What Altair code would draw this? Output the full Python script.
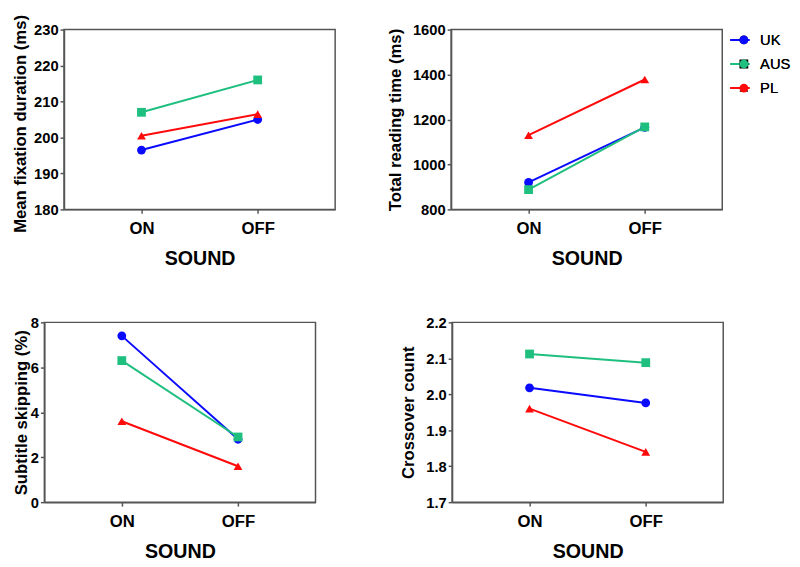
import altair as alt
import pandas as pd

sound = ["ON", "OFF"]
countries = ["UK", "AUS", "PL"]
colors = ["#0a0aff", "#1fbf7f", "#ff0a0a"]
shapes = ["circle", "square", "triangle-up"]

# Mean fixation duration (ms)
fix_uk = [196.5, 205.0]
fix_aus = [207.0, 216.0]
fix_pl = [200.5, 206.5]

# Total reading time (ms)
trt_uk = [920, 1165]
trt_aus = [888, 1167]
trt_pl = [1130, 1378]

# Subtitle skipping (%)
skip_uk = [7.4, 2.8]
skip_aus = [6.3, 2.9]
skip_pl = [3.6, 1.6]

# Crossover count
cross_uk = [2.018, 1.976]
cross_aus = [2.112, 2.088]
cross_pl = [1.960, 1.840]

FONT = "Liberation Sans"
W, H = 276, 183


def table(uk, aus, pl):
    rows = []
    for c, vals in zip(countries, [uk, aus, pl]):
        for s, v in zip(sound, vals):
            rows.append({"Country": c, "Country2": c, "Sound": s, "Value": v})
    return pd.DataFrame(rows)


def panel(df, ytitle, domain, ticks, fmt, show_legend=False, title_pad=8,
          title_y=None):
    base = alt.Chart(df)
    x = alt.X("Sound:N", sort=sound,
              scale=alt.Scale(type="point", padding=2 / 3),
              axis=alt.Axis(title="SOUND", labelAngle=0))
    yaxis = dict(values=ticks, format=fmt, title=ytitle, titlePadding=title_pad)
    if title_y is not None:
        yaxis["titleY"] = title_y
    y = alt.Y("Value:Q",
              scale=alt.Scale(domain=domain, nice=False, zero=False),
              axis=alt.Axis(**yaxis))
    if show_legend:
        line_leg = alt.Legend(orient="none", legendX=W + 7, legendY=0,
                              title=None, symbolType="stroke",
                              symbolSize=400, symbolStrokeWidth=2,
                              labelExpr="''", clipHeight=21, rowPadding=3.5,
                              padding=0)
        pt_leg = alt.Legend(orient="none", legendX=W + 14.5, legendY=0,
                            title=None, symbolSize=80, symbolStrokeWidth=0,
                            labelFont=FONT, labelFontSize=15,
                            labelFontWeight="normal", labelColor="#000",
                            labelOffset=9, clipHeight=21, rowPadding=3.5,
                            padding=0)
    else:
        line_leg = None
        pt_leg = None
    line = base.mark_line(strokeWidth=2).encode(
        x=x, y=y,
        color=alt.Color("Country:N", sort=countries,
                        scale=alt.Scale(range=colors), legend=line_leg),
    )
    pts = base.mark_point(filled=True, size=80, strokeWidth=0, opacity=1).encode(
        x=x, y=y,
        fill=alt.Fill("Country2:N", sort=countries,
                      scale=alt.Scale(range=colors), legend=pt_leg),
        shape=alt.Shape("Country2:N", sort=countries,
                        scale=alt.Scale(range=shapes), legend=pt_leg),
    )
    return alt.layer(line, pts).properties(width=W, height=H)


def spacer():
    # empty, invisible 1px cell that anchors each row at the left margin
    return (
        alt.Chart(pd.DataFrame({"v": [0]}))
        .mark_point(opacity=0, size=0, strokeWidth=0)
        .encode(x=alt.value(0), y=alt.value(0))
        .properties(width=1, height=1,
                    view=alt.ViewBackground(stroke="transparent"))
    )


p1 = panel(table(fix_uk, fix_aus, fix_pl), "Mean fixation duration (ms)",
           [180, 230], [180, 190, 200, 210, 220, 230], "d",
           title_pad=4, title_y=H / 2 + 4)
p2 = panel(table(trt_uk, trt_aus, trt_pl), "Total reading time (ms)",
           [800, 1600], [800, 1000, 1200, 1400, 1600], "d", show_legend=True)
p3 = panel(table(skip_uk, skip_aus, skip_pl), "Subtitle skipping (%)",
           [0, 8], [0, 2, 4, 6, 8], "d", title_pad=0)
p4 = panel(table(cross_uk, cross_aus, cross_pl), "Crossover count",
           [1.7, 2.2], [1.7, 1.8, 1.9, 2.0, 2.1, 2.2], ".1f")

ind = dict(color="independent", fill="independent", shape="independent",
           x="independent", y="independent")

row1 = alt.hconcat(p1, p2, spacing=50).resolve_scale(**ind)
row2 = alt.hconcat(p3, p4, spacing=84).resolve_scale(**ind)
row1s = alt.hconcat(spacer(), row1, spacing=0).resolve_scale(**ind)
row2s = alt.hconcat(spacer(), row2, spacing=0).resolve_scale(**ind)

chart = (
    alt.vconcat(row1s, row2s, spacing=46)
    .resolve_scale(**ind)
    .properties(padding=0)
    .configure_view(stroke="#555555", strokeWidth=1.5)
    .configure_axis(
        domainColor="#555555", domainWidth=1.5,
        tickColor="#555555", tickWidth=1.5, tickSize=4,
        labelFont=FONT, labelFontWeight="bold", labelColor="#000000",
        titleFont=FONT, titleFontWeight="bold", titleColor="#000000",
        grid=False,
    )
    .configure_axisX(labelFontSize=17, titleFontSize=20,
                     labelPadding=8, titlePadding=12)
    .configure_axisY(labelFontSize=15, titleFontSize=17,
                     labelPadding=2, titlePadding=8)
)

chart.save("out.html", embed_options={"renderer": "svg", "actions": False})
